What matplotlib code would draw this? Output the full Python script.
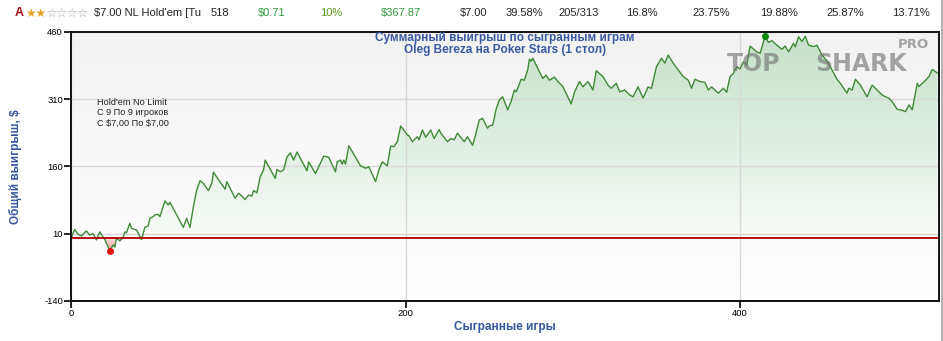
import matplotlib
matplotlib.use('Agg')
import matplotlib.pyplot as plt
import numpy as np
from matplotlib.patches import Polygon
from matplotlib.lines import Line2D

plt.rcParams['font.family'] = ['Liberation Sans', 'DejaVu Sans']
plt.rcParams['text.parse_math'] = False
plt.rcParams['axes.unicode_minus'] = False

# cumulative winnings (game number, $)
games = [0, 1, 2, 4, 6, 9, 11, 13, 15, 17, 20, 23, 25, 26, 27, 29, 31, 32, 33, 35,
         36, 39, 42, 44, 46, 47, 49, 50, 52, 53, 56, 58, 59, 67, 69, 71, 73, 75, 77, 79,
         82, 84, 85, 92, 93, 98, 100, 102, 104, 106, 108, 109, 111, 113, 115, 116, 122, 123, 125, 127,
         129, 131, 133, 135, 141, 142, 146, 149, 151, 154, 158, 159, 161, 162, 163, 164, 166, 173, 176, 178,
         182, 184, 186, 189, 191, 193, 195, 197, 201, 202, 204, 207, 208, 210, 212, 215, 217, 220, 221, 225,
         227, 229, 231, 235, 237, 240, 241, 244, 246, 249, 250, 252, 253, 254, 256, 258, 261, 263, 265, 266,
         267, 269, 271, 273, 274, 275, 276, 282, 284, 286, 289, 291, 294, 299, 301, 304, 306, 309, 311, 312,
         314, 318, 321, 323, 326, 328, 331, 334, 336, 339, 342, 345, 347, 348, 350, 353, 355, 357, 360, 366,
         369, 371, 373, 376, 379, 381, 383, 387, 390, 392, 394, 396, 398, 400, 402, 404, 406, 410, 412, 415,
         417, 419, 422, 425, 427, 429, 432, 433, 435, 437, 439, 441, 444, 446, 449, 452, 455, 458, 460, 464,
         465, 467, 469, 472, 476, 479, 482, 485, 487, 489, 491, 494, 496, 499, 501, 503, 506, 507, 511, 513,
         515, 518]
winnings = [0, 11, 19, 9, 5, 16, 7, 10, -4, 14, -3, -28, -15, -20, 0, -6, 2, 14, 12, 33,
            22, 18, -3, 24, 27, 44, 48, 52, 53, 48, 83, 74, 80, 24, 44, 24, 70, 107, 128, 122,
            106, 122, 147, 109, 126, 89, 100, 94, 86, 96, 94, 106, 101, 137, 152, 174, 133, 153, 148, 152,
            181, 190, 174, 192, 150, 170, 144, 167, 183, 180, 148, 170, 174, 165, 174, 165, 206, 161, 156, 159,
            126, 152, 170, 161, 205, 204, 215, 250, 230, 228, 215, 226, 219, 241, 225, 241, 222, 242, 234, 215,
            222, 219, 234, 215, 226, 207, 219, 263, 267, 245, 250, 252, 267, 286, 308, 315, 286, 304, 330, 326,
            334, 354, 352, 375, 399, 394, 401, 356, 363, 352, 359, 349, 338, 299, 326, 349, 337, 349, 337, 330,
            373, 360, 341, 334, 345, 326, 330, 319, 315, 337, 312, 337, 334, 350, 382, 401, 390, 408, 390, 360,
            352, 334, 354, 349, 347, 330, 337, 323, 334, 325, 360, 367, 382, 377, 393, 386, 428, 415, 412, 450,
            436, 440, 430, 421, 428, 415, 434, 426, 449, 438, 450, 430, 427, 430, 408, 395, 375, 354, 345, 323,
            334, 330, 354, 341, 315, 341, 330, 319, 315, 312, 304, 287, 286, 282, 297, 286, 345, 338, 352, 360,
            376, 368]

y_ticks = [460, 310, 160, 10, -140]
x_ticks = [0, 200, 400]
title = 'Суммарный выигрыш по сыгранным играм\nOleg Bereza на Poker Stars (1 стол)'
note = "Hold'em No Limit\nС 9 По 9 игроков\nС $7,00 По $7,00"
header = [('518', '#222222'), ('$0.71', '#2f9a3a'), ('10%', '#5c9a1c'), ('$367.87', '#2f9a3a'),
          ('$7.00', '#222222'), ('39.58%', '#222222'), ('205/313', '#222222'), ('16.8%', '#222222'),
          ('23.75%', '#222222'), ('19.88%', '#222222'), ('25.87%', '#222222'), ('13.71%', '#222222')]
header_x = [211, 258, 320, 381, 460, 506, 558, 626, 692, 760, 826, 892]

games = np.array(games)
winnings = np.array(winnings, dtype=float)
xmax = 519

fig = plt.figure(figsize=(9.43, 3.41), dpi=100)
ax = fig.add_axes([71.3 / 943, 1 - 301 / 341, (939 - 71.3) / 943, (301 - 31.7) / 341])

# background gradient of the plot area
bg = np.linspace(1.0, 0.95, 256).reshape(-1, 1)
ax.imshow(np.dstack([bg, bg, bg]), extent=[0, 1, 0, 1], transform=ax.transAxes,
          aspect='auto', origin='lower', zorder=0)

# area under the curve with gradient fills clipped to it
verts = [(games[0], 0)] + list(zip(games, winnings)) + [(games[-1], 0)]
area = Polygon(verts, closed=True, facecolor='none', edgecolor='none')
ax.add_patch(area)
t = np.linspace(0, 1, 256).reshape(-1, 1)
top = np.array([0.77, 0.88, 0.79])
low = np.array([0.97, 0.985, 0.97])
green = (low + (top - low) * t[..., None]).reshape(256, 1, 3)
gim = ax.imshow(green, extent=[0, xmax, 0, 460], aspect='auto', origin='lower', zorder=1)
gim.set_clip_path(area)
pink_low = np.array([0.95, 0.55, 0.55])
pink_top = np.array([0.99, 0.88, 0.88])
red = (pink_low + (pink_top - pink_low) * t[..., None]).reshape(256, 1, 3)
rim = ax.imshow(red, extent=[0, xmax, -30, 0], aspect='auto', origin='lower', zorder=1)
rim.set_clip_path(area)

ax.plot(games, winnings, color='#3e8a36', lw=1, zorder=4)
ax.axhline(0, color='#b00000', lw=1.3, zorder=5)

imax = np.argmax(winnings)
imin = np.argmin(winnings)
ax.plot(games[imax], winnings[imax], 'o', color='#0a8a0a', ms=4, zorder=6)
ax.plot(games[imin], winnings[imin], 'o', color='#e01010', ms=4, zorder=6)

ax.set_xlim(0, xmax)
ax.set_ylim(-140, 460)
ax.set_yticks(y_ticks)
ax.set_xticks(x_ticks)
ax.tick_params(labelsize=6.8, length=5, width=1.2, colors='black', pad=1)
ax.grid(True, color='#d8d8d8', lw=1)
for gl in ax.get_xgridlines() + ax.get_ygridlines():
    gl.set_zorder(0.5)
for s in ax.spines.values():
    s.set_linewidth(1.3)
    s.set_zorder(7)

ax.set_ylabel('Общий выигрыш, $', fontsize=8.5, fontweight='bold', color='#3556a0')
ax.yaxis.set_label_coords(-0.057, 0.5)
ax.set_xlabel('Сыгранные игры', fontsize=8.5, fontweight='bold', color='#3556a0', labelpad=2)

fig.text(505 / 943, 1 - 31.5 / 341, title, ha='center', va='top', fontsize=8.5,
         fontweight='bold', color='#3a5aa0', linespacing=1.05, zorder=8)
fig.text(97 / 943, 1 - 98 / 341, note, ha='left', va='top', fontsize=6.6,
         color='#222222', linespacing=1.2)

# watermark
fig.text(727 / 943, 1 - 64 / 341, 'TOP', family='DejaVu Sans', fontweight='bold',
         fontsize=17, color='#777777', alpha=0.65, va='center', ha='left')
fig.text(815 / 943, 1 - 64 / 341, 'SHARK', family='DejaVu Sans', fontweight='bold',
         fontsize=17, color='#777777', alpha=0.65, va='center', ha='left')
fig.text(898 / 943, 1 - 44 / 341, 'PRO', family='DejaVu Sans', fontweight='bold',
         fontsize=9.5, color='#777777', alpha=0.65, va='center', ha='left')

# header row
hy = 1 - 13 / 341
fig.text(15 / 943, hy, 'A', fontsize=9, fontweight='bold', color='#a01010', va='center')
fig.text(25 / 943, hy, '★★', family='DejaVu Sans', fontsize=8.5, color='#e8a020', va='center')
fig.text(46 / 943, hy, '☆☆☆☆', family='DejaVu Sans', fontsize=8.5, color='#a0a0a0', va='center')
fig.text(94 / 943, hy, "$7.00 NL Hold'em [Tu", fontsize=8, color='#222222', va='center')
for (txt, col), x in zip(header, header_x):
    fig.text(x / 943, hy, txt, fontsize=8, color=col, va='center')

fig.add_artist(Line2D([941.5 / 943, 941.5 / 943], [0, 1], color='#b0b0b0', lw=2))

fig.savefig('out.png', dpi=100)
